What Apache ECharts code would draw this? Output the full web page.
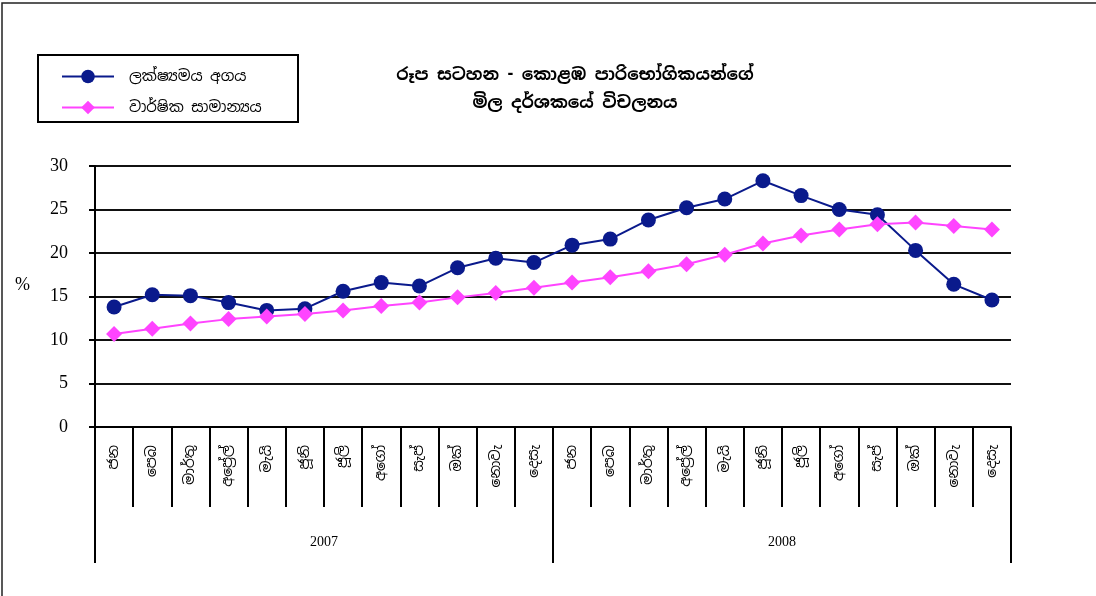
<!DOCTYPE html>
<html>
<head>
<meta charset="utf-8">
<script src="https://cdn.jsdelivr.net/npm/echarts@6/dist/echarts.min.js"></script>
<style>
html,body{margin:0;padding:0;background:#fff;}
#chart{width:1096px;height:596px;}
</style>
</head>
<body>
<div id="chart"></div>
<script>
const months = ['ජන','පෙබ','මාර්තු','අප්‍රේල්','මැයි','ජූනි','ජූලි','අගෝ','සැප්','ඔක්','නොවැ','දෙසැ',
                'ජන','පෙබ','මාර්තු','අප්‍රේල්','මැයි','ජූනි','ජූලි','අගෝ','සැප්','ඔක්','නොවැ','දෙසැ'];
const years = ['2007','2008'];
const pointValue = [13.8,15.2,15.1,14.3,13.4,13.6,15.6,16.6,16.2,18.3,19.4,18.9,
                    20.9,21.6,23.8,25.2,26.2,28.3,26.6,25.0,24.4,20.3,16.4,14.6];
const annualAvg = [10.7,11.3,11.9,12.4,12.7,13.0,13.4,13.9,14.3,14.9,15.4,16.0,
                   16.6,17.2,17.9,18.7,19.8,21.1,22.0,22.7,23.3,23.5,23.1,22.7];
const seriesNames = ['ලක්ෂ්‍යමය අගය','වාර්ෂික සාමාන්‍යය'];
const titleText = 'රූප සටහන - කොළඹ පාරිභෝගිකයන්ගේ\nමිල දර්ශකයේ විචලනය';

const sinhalaFont = '"Noto Sans Sinhala","Noto Serif Sinhala","Iskoola Pota",sans-serif';
const serifFont = '"Liberation Serif","DejaVu Serif",serif';

const chart = echarts.init(document.getElementById('chart'));
chart.setOption({
  animation: false,
  backgroundColor: '#fff',
  graphic: [
    {type:'rect', shape:{x:2,y:3,width:1300,height:800}, style:{fill:'none',stroke:'#222',lineWidth:1.5}},
    {type:'rect', shape:{x:38,y:55,width:260,height:67}, style:{fill:'#fff',stroke:'#000',lineWidth:2}, z:1},
    {type:'text', left:15, top:276, style:{text:'%', font:'18px "Liberation Serif",serif', fill:'#000'}}
  ],
  title: {
    text: titleText,
    left: 570, top: 56, textAlign: 'center',
    textStyle: {fontFamily: sinhalaFont, fontSize: 17, fontWeight: 'bold', color: '#000', lineHeight: 28}
  },
  legend: {
    orient: 'vertical',
    left: 56, top: 64,
    itemWidth: 52, itemHeight: 17, itemGap: 16,
    textStyle: {fontFamily: sinhalaFont, fontSize: 15, color: '#000', padding:[0,0,0,10]},
    data: seriesNames,
    z: 5
  },
  grid: {left: 95, right: 85, top: 166, bottom: 169, containLabel: false},
  xAxis: [
    {
      type: 'category', data: months, boundaryGap: true, position: 'bottom',
      axisLine: {show: true, lineStyle: {color: '#000', width: 2}},
      axisTick: {show: true, interval: 0, length: 80, lineStyle: {color: '#000', width: 2}},
      axisLabel: {interval: 0, rotate: 90, margin: 18, fontFamily: sinhalaFont, fontSize: 14, color: '#000'},
      splitLine: {show: false}
    },
    {
      type: 'category', data: years, boundaryGap: true, position: 'bottom',
      axisLine: {show: false},
      axisTick: {show: true, interval: 0, length: 136, lineStyle: {color: '#000', width: 2}},
      axisLabel: {interval: 0, margin: 108, fontFamily: serifFont, fontSize: 14, color: '#000'},
      splitLine: {show: false}
    }
  ],
  yAxis: {
    type: 'value', min: 0, max: 30, interval: 5,
    axisLine: {show: true, lineStyle: {color: '#000', width: 2}},
    axisTick: {show: true, length: 6, lineStyle: {color: '#000', width: 2}},
    axisLabel: {margin: 27, fontFamily: serifFont, fontSize: 18, color: '#000'},
    splitLine: {show: true, lineStyle: {color: '#111', width: 2}}
  },
  series: [
    {
      name: seriesNames[0], type: 'line', data: pointValue, xAxisIndex: 0,
      symbol: 'circle', symbolSize: 15,
      lineStyle: {color: '#0a1a8c', width: 2},
      itemStyle: {color: '#0a1a8c'},
      z: 3
    },
    {
      name: seriesNames[1], type: 'line', data: annualAvg, xAxisIndex: 0,
      symbol: 'diamond', symbolSize: 16,
      lineStyle: {color: '#ff44ff', width: 2},
      itemStyle: {color: '#ff44ff'},
      z: 4
    }
  ]
});
</script>
</body>
</html>
